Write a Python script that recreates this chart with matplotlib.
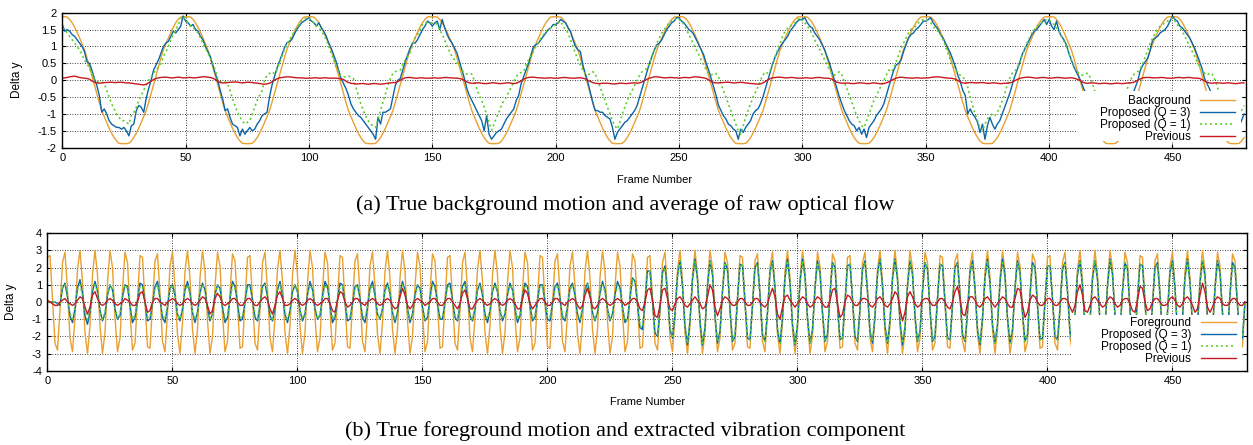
import numpy as np
import matplotlib
matplotlib.use('Agg')
import matplotlib.pyplot as plt
from matplotlib.patches import Rectangle

# ---------------- (a) background motion, one value per frame ----------------
bg_true = [
    1.88,1.88,1.87,1.8,1.7,1.57,1.42,1.25,1.08,0.9,0.66,0.4,0.13,-0.13,-0.4,-0.66,-0.9,-1.08,-1.25,-1.42,-1.57,-1.7,-1.8,-1.87,-1.88,-1.88,-1.88,-1.87,-1.8,-1.7,-1.57,-1.42,-1.25,-1.08,-0.9,-0.66,-0.4,-0.13,0.13,0.4,0.66,0.9,1.08,1.25,1.42,1.57,1.7,1.8,1.87,1.88,
    1.88,1.88,1.87,1.8,1.7,1.57,1.42,1.25,1.08,0.9,0.66,0.4,0.13,-0.13,-0.4,-0.66,-0.9,-1.08,-1.25,-1.42,-1.57,-1.7,-1.8,-1.87,-1.88,-1.88,-1.88,-1.87,-1.8,-1.7,-1.57,-1.42,-1.25,-1.08,-0.9,-0.66,-0.4,-0.13,0.13,0.4,0.66,0.9,1.08,1.25,1.42,1.57,1.7,1.8,1.87,1.88,
    1.88,1.88,1.87,1.8,1.7,1.57,1.42,1.25,1.08,0.9,0.66,0.4,0.13,-0.13,-0.4,-0.66,-0.9,-1.08,-1.25,-1.42,-1.57,-1.7,-1.8,-1.87,-1.88,-1.88,-1.88,-1.87,-1.8,-1.7,-1.57,-1.42,-1.25,-1.08,-0.9,-0.66,-0.4,-0.13,0.13,0.4,0.66,0.9,1.08,1.25,1.42,1.57,1.7,1.8,1.87,1.88,
    1.88,1.88,1.87,1.8,1.7,1.57,1.42,1.25,1.08,0.9,0.66,0.4,0.13,-0.13,-0.4,-0.66,-0.9,-1.08,-1.25,-1.42,-1.57,-1.7,-1.8,-1.87,-1.88,-1.88,-1.88,-1.87,-1.8,-1.7,-1.57,-1.42,-1.25,-1.08,-0.9,-0.66,-0.4,-0.13,0.13,0.4,0.66,0.9,1.08,1.25,1.42,1.57,1.7,1.8,1.87,1.88,
    1.88,1.88,1.87,1.8,1.7,1.57,1.42,1.25,1.08,0.9,0.66,0.4,0.13,-0.13,-0.4,-0.66,-0.9,-1.08,-1.25,-1.42,-1.57,-1.7,-1.8,-1.87,-1.88,-1.88,-1.88,-1.87,-1.8,-1.7,-1.57,-1.42,-1.25,-1.08,-0.9,-0.66,-0.4,-0.13,0.13,0.4,0.66,0.9,1.08,1.25,1.42,1.57,1.7,1.8,1.87,1.88,
    1.88,1.88,1.87,1.8,1.7,1.57,1.42,1.25,1.08,0.9,0.66,0.4,0.13,-0.13,-0.4,-0.66,-0.9,-1.08,-1.25,-1.42,-1.57,-1.7,-1.8,-1.87,-1.88,-1.88,-1.88,-1.87,-1.8,-1.7,-1.57,-1.42,-1.25,-1.08,-0.9,-0.66,-0.4,-0.13,0.13,0.4,0.66,0.9,1.08,1.25,1.42,1.57,1.7,1.8,1.87,1.88,
    1.88,1.88,1.87,1.8,1.7,1.57,1.42,1.25,1.08,0.9,0.66,0.4,0.13,-0.13,-0.4,-0.66,-0.9,-1.08,-1.25,-1.42,-1.57,-1.7,-1.8,-1.87,-1.88,-1.88,-1.88,-1.87,-1.8,-1.7,-1.57,-1.42,-1.25,-1.08,-0.9,-0.66,-0.4,-0.13,0.13,0.4,0.66,0.9,1.08,1.25,1.42,1.57,1.7,1.8,1.87,1.88,
    1.88,1.88,1.87,1.8,1.7,1.57,1.42,1.25,1.08,0.9,0.66,0.4,0.13,-0.13,-0.4,-0.66,-0.9,-1.08,-1.25,-1.42,-1.57,-1.7,-1.8,-1.87,-1.88,-1.88,-1.88,-1.87,-1.8,-1.7,-1.57,-1.42,-1.25,-1.08,-0.9,-0.66,-0.4,-0.13,0.13,0.4,0.66,0.9,1.08,1.25,1.42,1.57,1.7,1.8,1.87,1.88,
    1.88,1.88,1.87,1.8,1.7,1.57,1.42,1.25,1.08,0.9,0.66,0.4,0.13,-0.13,-0.4,-0.66,-0.9,-1.08,-1.25,-1.42,-1.57,-1.7,-1.8,-1.87,-1.88,-1.88,-1.88,-1.87,-1.8,-1.7,-1.57,-1.42,-1.25,-1.08,-0.9,-0.66,-0.4,-0.13,0.13,0.4,0.66,0.9,1.08,1.25,1.42,1.57,1.7,1.8,1.87,1.88,
    1.88,1.88,1.87,1.8,1.7,1.57,1.42,1.25,1.08,0.9,0.66,0.4,0.13,-0.13,-0.4,-0.66,-0.9,-1.08,-1.25,-1.42,-1.57,-1.7,-1.8,-1.87,-1.88,-1.88,-1.88,-1.87,-1.8,-1.7,
]

bg_q3 = [
    1.65,1.45,1.5,1.45,1.35,1.3,1.2,1.1,1.0,0.85,0.55,0.5,0.3,0.05,-0.15,-0.45,-0.95,-0.85,-1.0,-1.2,-1.3,-1.35,-1.4,-1.4,-1.45,-1.4,-1.5,-1.65,-1.35,-1.3,-0.9,-0.75,-0.8,-0.95,-0.55,-0.25,0.0,0.3,0.45,0.6,0.8,1.0,1.1,1.15,1.3,1.45,1.4,1.5,1.6,1.9,
    1.75,1.7,1.6,1.65,1.5,1.45,1.3,1.2,1.0,0.85,0.7,0.45,0.2,0.0,-0.3,-0.55,-0.9,-0.85,-1.1,-1.3,-1.35,-1.4,-1.65,-1.45,-1.6,-1.5,-1.4,-1.5,-1.45,-1.3,-1.2,-1.05,-1.0,-0.95,-0.5,-0.15,0.1,0.35,0.55,0.75,0.95,1.1,1.15,1.2,1.35,1.5,1.6,1.7,1.75,1.8,
    1.85,1.75,1.7,1.6,1.7,1.55,1.45,1.3,1.1,0.95,0.75,0.55,0.3,0.05,-0.1,-0.25,-0.45,-0.7,-0.85,-0.95,-1.05,-1.1,-1.2,-1.3,-1.4,-1.5,-1.6,-1.75,-1.1,-1.3,-0.95,-0.95,-0.9,-0.85,-0.5,-0.15,0.0,0.05,0.3,0.55,0.75,0.95,1.1,1.1,1.2,1.35,1.5,1.6,1.75,1.7,
    1.6,1.7,1.75,1.5,1.8,1.55,1.35,1.2,1.1,0.95,0.8,0.55,0.3,0.05,-0.25,-0.45,-0.6,-0.75,-0.9,-1.05,-1.2,-1.5,-1.05,-1.6,-1.75,-1.65,-1.55,-1.5,-1.45,-1.3,-1.15,-1.05,-0.95,-0.85,-0.6,-0.45,-0.1,0.1,0.3,0.5,0.75,1.0,1.05,1.1,1.2,1.3,1.4,1.5,1.55,1.65,
    1.65,1.7,1.8,1.75,1.7,1.55,1.45,1.2,1.0,0.9,0.85,0.45,0.2,-0.05,-0.35,-0.65,-0.9,-0.9,-0.95,-0.95,-1.05,-1.1,-1.15,-1.4,-1.75,-1.55,-1.45,-1.35,-1.25,-1.2,-1.1,-1.0,-0.9,-0.75,-0.5,-0.25,0.0,0.25,0.5,0.7,0.9,1.05,1.1,1.2,1.35,1.5,1.6,1.7,1.75,1.85,
    1.85,1.75,1.7,1.6,1.5,1.45,1.35,1.2,1.05,0.9,0.75,0.5,0.3,0.05,-0.2,-0.45,-0.75,-0.9,-1.05,-1.15,-1.3,-1.35,-1.45,-1.5,-1.75,-1.45,-1.55,-1.4,-1.3,-1.2,-1.0,-0.9,-0.85,-0.7,-0.5,-0.25,0.0,0.25,0.5,0.7,0.85,1.0,1.1,1.2,1.3,1.45,1.55,1.65,1.75,1.8,
    1.8,1.85,1.7,1.6,1.55,1.4,1.3,1.2,1.05,0.9,0.7,0.5,0.25,0.0,-0.25,-0.5,-0.7,-0.9,-1.05,-1.2,-1.3,-1.35,-1.5,-1.4,-1.6,-1.45,-1.7,-1.4,-1.3,-1.2,-1.05,-0.95,-0.85,-0.7,-0.45,-0.2,0.05,0.3,0.45,0.5,0.6,0.85,1.05,1.25,1.35,1.4,1.5,1.56,1.65,1.75,
    1.75,1.8,1.85,1.7,1.6,1.5,1.35,1.25,1.1,0.95,0.8,0.6,0.4,0.15,-0.05,-0.3,-0.45,-1.0,-0.85,-1.0,-1.1,-1.25,-1.55,-1.3,-1.75,-1.35,-1.1,-1.3,-1.45,-1.3,-1.2,-1.0,-0.8,-0.6,-0.4,-0.15,0.1,0.3,0.5,0.75,0.9,1.05,1.2,1.35,1.45,1.5,1.6,1.7,1.8,1.65,
    1.8,1.6,1.5,1.75,1.45,1.3,1.2,1.05,0.8,0.6,0.4,0.25,0.1,-0.05,-0.25,-0.4,-0.6,-0.8,-1.0,-1.2,-1.3,-1.4,-1.45,-1.5,-1.6,-1.5,-1.45,-1.4,-1.3,-1.2,-1.05,-0.9,-0.75,-0.55,-0.4,-0.2,0.0,0.3,0.45,0.55,0.65,0.9,1.2,1.25,1.3,1.4,1.45,1.5,1.6,1.75,
    1.9,1.8,1.75,1.6,1.55,1.45,1.35,1.25,1.1,0.95,0.75,0.55,0.35,0.05,-0.1,-0.25,-0.45,-0.7,-0.9,-1.05,-1.2,-1.3,-1.35,-1.4,-1.45,-1.5,-1.4,-1.35,-1.2,-1.0,
]

bg_q1 = [
    1.55,1.5,1.4,1.3,1.2,1.1,1.0,0.9,0.75,0.6,0.5,0.35,0.2,0.0,-0.05,-0.05,-0.05,-0.1,-0.3,-0.5,-0.7,-0.85,-1.0,-1.1,-1.2,-1.2,-1.25,-1.3,-1.05,-0.95,-0.8,-0.6,-0.45,-0.3,-0.15,0.0,0.1,0.2,0.3,0.4,0.5,0.7,0.85,1.0,1.2,1.35,1.5,1.65,1.8,1.9,
    1.8,1.7,1.6,1.55,1.5,1.4,1.25,1.1,0.95,0.8,0.68,0.5,0.3,0.05,-0.05,-0.05,-0.05,-0.1,-0.3,-0.55,-0.75,-0.95,-1.1,-1.2,-1.3,-1.25,-1.2,-1.0,-0.8,-0.6,-0.45,-0.3,0.0,0.15,0.2,0.25,0.2,0.3,0.5,0.7,0.9,1.05,1.2,1.3,1.45,1.55,1.65,1.75,1.8,1.85,
    1.85,1.75,1.7,1.6,1.55,1.45,1.35,1.2,1.0,0.8,0.6,0.4,0.25,0.12,0.1,0.1,0.12,0.1,0.05,-0.2,-0.45,-0.7,-0.9,-1.05,-1.2,-1.3,-1.35,-1.4,-1.15,-0.9,-0.65,-0.4,-0.15,0.05,0.2,0.25,0.28,0.3,0.45,0.6,0.72,0.82,1.05,1.25,1.35,1.5,1.65,1.7,1.7,1.7,
    1.7,1.7,1.65,1.5,1.35,1.2,1.0,0.85,0.7,0.6,0.5,0.4,0.3,0.2,0.18,0.2,0.18,0.0,-0.25,-0.45,-0.6,-0.8,-1.0,-1.25,-1.48,-1.3,-1.1,-0.95,-0.75,-0.6,-0.5,-0.35,-0.2,-0.05,0.1,0.19,0.23,0.25,0.45,0.6,0.72,0.85,1.0,1.1,1.25,1.35,1.45,1.5,1.55,1.6,
    1.65,1.7,1.75,1.6,1.5,1.4,1.2,1.0,0.8,0.6,0.45,0.3,0.2,0.15,0.2,0.25,0.2,0.0,-0.2,-0.4,-0.6,-0.8,-1.0,-1.2,-1.35,-1.45,-1.25,-1.0,-0.8,-0.6,-0.45,-0.3,-0.15,0.0,0.15,0.25,0.3,0.35,0.5,0.7,0.9,1.1,1.25,1.4,1.5,1.6,1.7,1.75,1.8,1.85,
    1.8,1.75,1.65,1.5,1.35,1.2,1.05,0.9,0.75,0.6,0.45,0.3,0.2,0.15,0.2,0.2,0.1,-0.1,-0.3,-0.5,-0.7,-0.9,-1.1,-1.3,-1.5,-1.6,-1.35,-1.1,-0.9,-0.7,-0.5,-0.35,-0.2,0.0,0.15,0.25,0.2,0.3,0.5,0.7,0.9,1.1,1.3,1.45,1.55,1.6,1.65,1.7,1.8,1.85,
    1.75,1.7,1.6,1.5,1.35,1.2,1.05,0.9,0.75,0.6,0.45,0.3,0.2,0.15,0.2,0.25,0.15,-0.05,-0.25,-0.45,-0.65,-0.85,-1.05,-1.2,-1.35,-1.4,-1.2,-1.0,-0.8,-0.6,-0.45,-0.3,-0.15,0.0,0.15,0.3,0.25,0.35,0.55,0.75,0.95,1.1,1.25,1.4,1.5,1.55,1.6,1.7,1.75,1.8,
    1.8,1.75,1.7,1.6,1.5,1.45,1.35,1.2,1.0,0.8,0.6,0.45,0.3,0.2,0.15,0.1,0.0,-0.2,-0.5,-0.75,-1.0,-1.2,-1.4,-1.5,-1.3,-1.15,-1.05,-1.0,-1.05,-0.95,-0.8,-0.6,-0.4,-0.15,0.05,0.2,0.25,0.35,0.55,0.72,0.9,1.1,1.25,1.4,1.5,1.6,1.65,1.7,1.75,1.8,
    1.8,1.7,1.65,1.55,1.45,1.3,1.15,1.0,0.8,0.6,0.45,0.3,0.2,0.15,0.15,0.2,0.2,0.0,-0.2,-0.45,-0.7,-0.9,-1.1,-1.3,-1.45,-1.5,-1.3,-1.1,-0.9,-0.7,-0.5,-0.35,-0.2,0.0,0.15,0.2,0.25,0.35,0.5,0.7,0.9,1.1,1.25,1.4,1.5,1.6,1.65,1.7,1.75,1.8,
    1.85,1.75,1.65,1.55,1.45,1.3,1.15,1.0,0.85,0.7,0.55,0.4,0.3,0.2,0.15,0.2,0.2,0.05,-0.15,-0.4,-0.65,-0.85,-1.05,-1.25,-1.4,-1.45,-1.3,-1.1,-0.9,-0.75,
]

bg_prev = [
    0.06,0.07,0.08,0.1,0.11,0.12,0.1,0.08,0.07,0.06,0.05,0.03,-0.02,-0.06,-0.08,-0.09,-0.08,-0.07,-0.07,-0.06,-0.06,-0.07,-0.07,-0.06,-0.06,-0.07,-0.08,-0.08,-0.09,-0.1,-0.11,-0.12,-0.13,-0.14,-0.12,-0.08,-0.03,0.02,0.05,0.07,0.08,0.09,0.09,0.08,0.07,0.07,0.08,0.09,0.08,0.07,
    0.07,0.08,0.08,0.07,0.07,0.08,0.09,0.1,0.1,0.09,0.08,0.06,0.02,-0.03,-0.07,-0.08,-0.08,-0.07,-0.06,-0.06,-0.05,-0.06,-0.07,-0.08,-0.07,-0.06,-0.06,-0.07,-0.08,-0.09,-0.1,-0.11,-0.12,-0.11,-0.09,-0.05,0.0,0.04,0.07,0.08,0.09,0.1,0.1,0.09,0.08,0.07,0.07,0.07,0.06,0.06,
    0.06,0.06,0.07,0.07,0.06,0.06,0.07,0.07,0.06,0.06,0.06,0.06,0.05,0.04,0.02,-0.03,-0.07,-0.09,-0.1,-0.11,-0.11,-0.1,-0.1,-0.11,-0.12,-0.11,-0.1,-0.1,-0.11,-0.12,-0.11,-0.1,-0.09,-0.08,-0.07,-0.07,-0.04,0.0,0.04,0.07,0.08,0.08,0.07,0.06,0.06,0.07,0.07,0.06,0.06,0.06,
    0.07,0.07,0.06,0.06,0.07,0.08,0.08,0.07,0.07,0.06,0.06,0.05,0.03,-0.01,-0.05,-0.08,-0.09,-0.09,-0.08,-0.08,-0.09,-0.1,-0.1,-0.09,-0.08,-0.08,-0.09,-0.1,-0.1,-0.09,-0.08,-0.08,-0.09,-0.1,-0.09,-0.06,-0.02,0.03,0.06,0.08,0.09,0.09,0.08,0.07,0.07,0.06,0.06,0.07,0.07,0.06,
    0.06,0.06,0.07,0.08,0.08,0.07,0.06,0.06,0.06,0.07,0.07,0.06,0.04,0.0,-0.04,-0.07,-0.09,-0.1,-0.1,-0.09,-0.09,-0.09,-0.1,-0.11,-0.11,-0.1,-0.09,-0.09,-0.1,-0.1,-0.09,-0.08,-0.08,-0.09,-0.08,-0.05,-0.01,0.03,0.06,0.08,0.1,0.1,0.09,0.08,0.07,0.07,0.08,0.08,0.07,0.07,
    0.06,0.07,0.08,0.08,0.07,0.08,0.1,0.1,0.09,0.08,0.07,0.05,0.01,-0.04,-0.07,-0.08,-0.08,-0.07,-0.07,-0.06,-0.06,-0.07,-0.08,-0.08,-0.07,-0.06,-0.07,-0.08,-0.09,-0.1,-0.1,-0.11,-0.12,-0.11,-0.08,-0.04,0.01,0.05,0.07,0.08,0.09,0.09,0.08,0.07,0.07,0.08,0.08,0.07,0.06,0.06,
    0.06,0.07,0.07,0.06,0.06,0.07,0.08,0.08,0.07,0.06,0.06,0.05,0.03,-0.02,-0.06,-0.08,-0.09,-0.09,-0.08,-0.09,-0.1,-0.1,-0.09,-0.08,-0.08,-0.09,-0.1,-0.1,-0.09,-0.08,-0.09,-0.1,-0.11,-0.1,-0.08,-0.05,-0.01,0.03,0.06,0.08,0.09,0.08,0.07,0.07,0.06,0.06,0.07,0.07,0.06,0.06,
    0.07,0.07,0.08,0.09,0.1,0.1,0.09,0.08,0.07,0.06,0.06,0.05,0.03,-0.01,-0.05,-0.08,-0.09,-0.08,-0.07,-0.07,-0.08,-0.08,-0.07,-0.07,-0.08,-0.09,-0.09,-0.08,-0.08,-0.09,-0.1,-0.1,-0.09,-0.09,-0.08,-0.06,-0.02,0.02,0.05,0.07,0.08,0.09,0.09,0.08,0.07,0.06,0.07,0.08,0.08,0.07,
    0.06,0.06,0.07,0.08,0.08,0.07,0.06,0.06,0.07,0.07,0.06,0.04,0.01,-0.03,-0.07,-0.09,-0.09,-0.08,-0.08,-0.09,-0.1,-0.1,-0.09,-0.09,-0.1,-0.11,-0.1,-0.09,-0.09,-0.1,-0.1,-0.09,-0.08,-0.08,-0.07,-0.04,0.0,0.04,0.07,0.08,0.08,0.08,0.07,0.07,0.07,0.08,0.08,0.07,0.06,0.06,
    0.06,0.07,0.08,0.08,0.07,0.07,0.08,0.08,0.07,0.06,0.06,0.05,0.02,-0.02,-0.06,-0.08,-0.09,-0.08,-0.08,-0.08,-0.09,-0.09,-0.08,-0.08,-0.09,-0.1,-0.1,-0.09,-0.08,-0.08,
]

# ---------------- (b) foreground motion, one value per frame ----------------
fg_true = [
    2.6,2.7,0.2,-2.4,-2.8,-0.5,2.3,2.9,0.7,-2.1,-2.9,-0.9,1.9,3.0,1.2,-1.8,-3.0,-1.4,1.6,3.0,1.6,-1.4,-3.0,-1.8,1.1,3.0,2.0,-0.9,-2.9,-2.1,0.7,2.9,2.3,-0.5,-2.8,-2.4,0.2,2.7,2.6,0.0,-2.6,-2.7,-0.2,2.4,2.8,0.5,-2.3,-2.9,-0.7,2.1,2.9,0.9,-1.9,-3.0,-1.2,1.8,3.0,1.4,-1.6,-3.0,-1.6,1.4,3.0,1.8,-1.1,-3.0,-2.0,0.9,2.9,2.1,-0.7,-2.9,-2.3,0.5,2.8,2.4,-0.2,-2.7,-2.6,0.0,
    2.6,2.7,0.2,-2.4,-2.8,-0.5,2.3,2.9,0.7,-2.1,-2.9,-0.9,1.9,3.0,1.2,-1.8,-3.0,-1.4,1.6,3.0,1.6,-1.4,-3.0,-1.8,1.1,3.0,2.0,-0.9,-2.9,-2.1,0.7,2.9,2.3,-0.5,-2.8,-2.4,0.2,2.7,2.6,0.0,-2.6,-2.7,-0.2,2.4,2.8,0.5,-2.3,-2.9,-0.7,2.1,2.9,0.9,-1.9,-3.0,-1.2,1.8,3.0,1.4,-1.6,-3.0,-1.6,1.4,3.0,1.8,-1.1,-3.0,-2.0,0.9,2.9,2.1,-0.7,-2.9,-2.3,0.5,2.8,2.4,-0.2,-2.7,-2.6,0.0,
    2.6,2.7,0.2,-2.4,-2.8,-0.5,2.3,2.9,0.7,-2.1,-2.9,-0.9,1.9,3.0,1.2,-1.8,-3.0,-1.4,1.6,3.0,1.6,-1.4,-3.0,-1.8,1.1,3.0,2.0,-0.9,-2.9,-2.1,0.7,2.9,2.3,-0.5,-2.8,-2.4,0.2,2.7,2.6,0.0,-2.6,-2.7,-0.2,2.4,2.8,0.5,-2.3,-2.9,-0.7,2.1,2.9,0.9,-1.9,-3.0,-1.2,1.8,3.0,1.4,-1.6,-3.0,-1.6,1.4,3.0,1.8,-1.1,-3.0,-2.0,0.9,2.9,2.1,-0.7,-2.9,-2.3,0.5,2.8,2.4,-0.2,-2.7,-2.6,0.0,
    2.6,2.7,0.2,-2.4,-2.8,-0.5,2.3,2.9,0.7,-2.1,-2.9,-0.9,1.9,3.0,1.2,-1.8,-3.0,-1.4,1.6,3.0,1.6,-1.4,-3.0,-1.8,1.1,3.0,2.0,-0.9,-2.9,-2.1,0.7,2.9,2.3,-0.5,-2.8,-2.4,0.2,2.7,2.6,0.0,-2.6,-2.7,-0.2,2.4,2.8,0.5,-2.3,-2.9,-0.7,2.1,2.9,0.9,-1.9,-3.0,-1.2,1.8,3.0,1.4,-1.6,-3.0,-1.6,1.4,3.0,1.8,-1.1,-3.0,-2.0,0.9,2.9,2.1,-0.7,-2.9,-2.3,0.5,2.8,2.4,-0.2,-2.7,-2.6,0.0,
    2.6,2.7,0.2,-2.4,-2.8,-0.5,2.3,2.9,0.7,-2.1,-2.9,-0.9,1.9,3.0,1.2,-1.8,-3.0,-1.4,1.6,3.0,1.6,-1.4,-3.0,-1.8,1.1,3.0,2.0,-0.9,-2.9,-2.1,0.7,2.9,2.3,-0.5,-2.8,-2.4,0.2,2.7,2.6,0.0,-2.6,-2.7,-0.2,2.4,2.8,0.5,-2.3,-2.9,-0.7,2.1,2.9,0.9,-1.9,-3.0,-1.2,1.8,3.0,1.4,-1.6,-3.0,-1.6,1.4,3.0,1.8,-1.1,-3.0,-2.0,0.9,2.9,2.1,-0.7,-2.9,-2.3,0.5,2.8,2.4,-0.2,-2.7,-2.6,0.0,
    2.6,2.7,0.2,-2.4,-2.8,-0.5,2.3,2.9,0.7,-2.1,-2.9,-0.9,1.9,3.0,1.2,-1.8,-3.0,-1.4,1.6,3.0,1.6,-1.4,-3.0,-1.8,1.1,3.0,2.0,-0.9,-2.9,-2.1,0.7,2.9,2.3,-0.5,-2.8,-2.4,0.2,2.7,2.6,0.0,-2.6,-2.7,-0.2,2.4,2.8,0.5,-2.3,-2.9,-0.7,2.1,2.9,0.9,-1.9,-3.0,-1.2,1.8,3.0,1.4,-1.6,-3.0,-1.6,1.4,3.0,1.8,-1.1,-3.0,-2.0,0.9,2.9,2.1,-0.7,-2.9,-2.3,0.5,2.8,2.4,-0.2,-2.7,-2.6,0.0,
]

fg_q3 = [
    0.0,0.0,0.0,0.0,-0.1,-0.2,0.8,1.1,0.3,-0.8,-1.2,-0.4,0.8,1.3,0.5,-0.8,-1.3,-0.6,0.6,1.2,0.6,-0.5,-1.1,-0.7,0.4,1.0,0.7,-0.4,-1.0,-0.8,0.3,1.0,0.9,-0.2,-1.2,-0.9,0.1,1.1,1.0,0.0,-1.1,-1.0,-0.1,0.9,1.2,0.2,-0.9,-1.2,-0.3,0.8,1.0,0.4,-0.7,-1.1,-0.4,0.7,1.2,0.5,-0.6,-1.2,-0.6,0.5,1.1,0.7,-0.4,-1.1,-0.7,0.4,1.0,0.8,-0.3,-1.2,-0.9,0.2,1.2,0.9,-0.1,-1.1,-1.0,0.0,
    1.0,1.0,0.1,-0.9,-1.1,-0.2,0.9,1.1,0.3,-0.8,-1.1,-0.4,0.7,1.2,0.4,-0.7,-1.2,-0.5,0.6,1.0,0.6,-0.5,-1.1,-0.7,0.4,1.2,0.7,-0.4,-1.0,-0.8,0.3,1.2,0.9,-0.2,-1.2,-0.9,0.1,1.1,1.0,0.0,-1.1,-1.0,-0.1,0.9,1.0,0.2,-0.9,-1.2,-0.3,0.8,1.2,0.4,-0.7,-1.0,-0.4,0.7,1.1,0.5,-0.6,-1.2,-0.6,0.5,1.2,0.7,-0.4,-1.2,-0.7,0.4,1.0,0.8,-0.3,-1.1,-0.9,0.2,1.2,0.9,-0.1,-1.0,-1.0,0.0,
    1.0,1.1,0.1,-0.9,-1.1,-0.2,0.9,1.2,0.3,-0.8,-1.1,-0.4,0.7,1.1,0.4,-0.7,-1.2,-0.5,0.6,1.1,0.6,-0.5,-1.1,-0.7,0.4,1.1,0.7,-0.4,-1.2,-0.8,0.3,1.1,0.9,-0.2,-1.1,-0.9,0.1,1.0,1.0,0.0,-1.0,-1.1,-0.1,0.9,1.1,0.2,-0.9,-1.1,-0.3,0.8,1.1,0.4,-0.7,-1.2,-0.4,0.7,1.1,0.5,-0.6,-1.1,-0.6,0.5,1.2,0.7,-0.4,-1.1,-0.7,0.4,1.2,0.8,-0.3,-1.2,-1.0,0.2,1.4,1.2,-0.1,-1.5,-1.6,0.0,
    1.8,1.8,0.1,-1.8,-2.0,-0.4,1.7,2.1,0.5,-1.6,-2.1,-0.7,1.5,2.4,0.9,-1.4,-2.5,-1.1,1.3,2.5,1.3,-1.1,-2.5,-1.5,0.9,2.4,1.6,-0.8,-2.4,-1.7,0.6,2.3,1.9,-0.4,-2.3,-2.0,0.2,2.2,2.1,0.0,-2.1,-2.2,-0.2,2.0,2.3,0.4,-1.9,-2.3,-0.6,1.7,2.4,0.8,-1.6,-2.4,-0.9,1.4,2.5,1.1,-1.3,-2.5,-1.3,1.1,2.5,1.5,-0.9,-2.4,-1.6,0.8,2.4,1.7,-0.6,-2.3,-1.9,0.4,2.3,2.0,-0.2,-2.2,-2.1,0.0,
    2.1,2.2,0.2,-2.0,-2.3,-0.4,1.9,2.4,0.6,-1.7,-2.4,-0.8,1.6,2.5,0.9,-1.4,-2.4,-1.1,1.3,2.5,1.3,-1.1,-2.5,-1.5,0.9,2.4,1.6,-0.8,-2.3,-1.7,0.6,2.3,1.9,-0.4,-2.3,-2.0,0.2,2.2,2.1,0.0,-2.1,-2.2,-0.2,2.0,2.3,0.4,-1.9,-2.3,-0.6,1.7,2.4,0.8,-1.6,-2.5,-0.9,1.4,2.5,1.1,-1.3,-2.4,-1.3,1.1,2.5,1.5,-0.9,-2.4,-1.6,0.8,2.4,1.7,-0.6,-2.3,-1.9,0.4,2.3,2.0,-0.2,-2.2,-2.1,0.0,
    2.1,2.1,0.2,-2.0,-2.2,-0.4,1.9,2.3,0.6,-1.7,-2.4,-0.8,1.6,2.4,0.9,-1.4,-2.5,-1.1,1.3,2.4,1.3,-1.1,-2.4,-1.5,0.9,2.5,1.6,-0.8,-2.4,-1.7,0.6,2.3,1.9,-0.4,-2.3,-2.0,0.2,2.2,2.1,0.0,-2.1,-2.2,-0.2,2.0,2.3,0.4,-1.9,-2.4,-0.6,1.7,2.4,0.8,-1.6,-2.4,-0.9,1.4,2.5,1.1,-1.3,-2.5,-1.3,1.1,2.4,1.5,-0.9,-2.5,-1.6,0.8,2.4,1.7,-0.6,-2.3,-1.9,0.4,2.3,2.0,-0.2,-2.2,-2.1,0.0,
]

fg_q1 = [
    0.0,0.0,0.0,0.0,-0.1,-0.2,0.8,1.0,0.2,-0.7,-1.0,-0.3,0.7,1.0,0.4,-0.6,-1.0,-0.5,0.6,1.0,0.6,-0.5,-1.0,-0.6,0.4,1.0,0.7,-0.3,-1.0,-0.7,0.2,1.0,0.8,-0.2,-1.0,-0.8,0.1,0.9,0.9,0.0,-0.9,-0.9,-0.1,0.8,1.0,0.2,-0.8,-1.0,-0.2,0.7,1.0,0.3,-0.7,-1.0,-0.4,0.6,1.0,0.5,-0.6,-1.0,-0.6,0.5,1.0,0.6,-0.4,-1.0,-0.7,0.3,1.0,0.7,-0.2,-1.0,-0.8,0.2,1.0,0.8,-0.1,-0.9,-0.9,0.0,
    0.9,0.9,0.1,-0.8,-1.0,-0.2,0.8,1.0,0.2,-0.7,-1.0,-0.3,0.7,1.0,0.4,-0.6,-1.0,-0.5,0.6,1.0,0.6,-0.5,-1.0,-0.6,0.4,1.0,0.7,-0.3,-1.0,-0.7,0.2,1.0,0.8,-0.2,-1.0,-0.8,0.1,0.9,0.9,0.0,-0.9,-0.9,-0.1,0.8,1.0,0.2,-0.8,-1.0,-0.2,0.7,1.0,0.3,-0.7,-1.0,-0.4,0.6,1.0,0.5,-0.6,-1.0,-0.6,0.5,1.0,0.6,-0.4,-1.0,-0.7,0.3,1.0,0.7,-0.2,-1.0,-0.8,0.2,1.0,0.8,-0.1,-0.9,-0.9,0.0,
    0.9,0.9,0.1,-0.8,-1.0,-0.2,0.8,1.0,0.2,-0.7,-1.0,-0.3,0.7,1.0,0.4,-0.6,-1.0,-0.5,0.6,1.0,0.6,-0.5,-1.0,-0.6,0.4,1.0,0.7,-0.3,-1.0,-0.7,0.2,1.0,0.8,-0.2,-1.0,-0.8,0.1,0.9,0.9,0.0,-0.9,-0.9,-0.1,0.8,1.0,0.2,-0.8,-1.0,-0.2,0.7,1.0,0.3,-0.7,-1.0,-0.4,0.6,1.0,0.5,-0.6,-1.0,-0.6,0.5,1.0,0.6,-0.4,-1.0,-0.7,0.3,1.0,0.7,-0.3,-1.1,-1.0,0.2,1.3,1.2,-0.1,-1.4,-1.5,0.0,
    1.7,1.8,0.1,-1.7,-1.9,-0.4,1.6,2.0,0.5,-1.5,-2.1,-0.7,1.4,2.4,1.0,-1.4,-2.4,-1.1,1.3,2.4,1.3,-1.1,-2.4,-1.4,0.9,2.4,1.6,-0.7,-2.3,-1.7,0.6,2.3,1.8,-0.4,-2.2,-1.9,0.2,2.2,2.1,0.0,-2.1,-2.2,-0.2,1.9,2.2,0.4,-1.8,-2.3,-0.6,1.7,2.3,0.7,-1.5,-2.4,-1.0,1.4,2.4,1.1,-1.3,-2.4,-1.3,1.1,2.4,1.4,-0.9,-2.4,-1.6,0.7,2.3,1.7,-0.6,-2.3,-1.8,0.4,2.2,1.9,-0.2,-2.2,-2.1,0.0,
    2.1,2.2,0.2,-1.9,-2.2,-0.4,1.8,2.3,0.6,-1.7,-2.3,-0.7,1.5,2.4,1.0,-1.4,-2.4,-1.1,1.3,2.4,1.3,-1.1,-2.4,-1.4,0.9,2.4,1.6,-0.7,-2.3,-1.7,0.6,2.3,1.8,-0.4,-2.2,-1.9,0.2,2.2,2.1,0.0,-2.1,-2.2,-0.2,1.9,2.2,0.4,-1.8,-2.3,-0.6,1.7,2.3,0.7,-1.5,-2.4,-1.0,1.4,2.4,1.1,-1.3,-2.4,-1.3,1.1,2.4,1.4,-0.9,-2.4,-1.6,0.7,2.3,1.7,-0.6,-2.3,-1.8,0.4,2.2,1.9,-0.2,-2.2,-2.1,0.0,
    2.1,2.2,0.2,-1.9,-2.2,-0.4,1.8,2.3,0.6,-1.7,-2.3,-0.7,1.5,2.4,1.0,-1.4,-2.4,-1.1,1.3,2.4,1.3,-1.1,-2.4,-1.4,0.9,2.4,1.6,-0.7,-2.3,-1.7,0.6,2.3,1.8,-0.4,-2.2,-1.9,0.2,2.2,2.1,0.0,-2.1,-2.2,-0.2,1.9,2.2,0.4,-1.8,-2.3,-0.6,1.7,2.3,0.7,-1.5,-2.4,-1.0,1.4,2.4,1.1,-1.3,-2.4,-1.3,1.1,2.4,1.4,-0.9,-2.4,-1.6,0.7,2.3,1.7,-0.6,-2.3,-1.8,0.4,2.2,1.9,-0.2,-2.2,-2.1,0.0,
]

fg_prev = [
    0.1,0.0,-0.1,-0.2,-0.2,0.0,0.1,0.2,0.0,-0.1,-0.2,-0.1,0.1,0.3,0.2,-0.3,-0.7,-0.3,0.4,0.6,0.2,-0.1,-0.2,-0.1,0.1,0.2,0.1,-0.1,-0.2,-0.1,0.0,0.2,0.1,0.0,-0.2,-0.2,0.0,0.5,0.6,0.0,-0.6,-0.5,0.0,0.2,0.2,0.0,-0.1,-0.2,0.0,0.1,0.2,0.1,-0.1,-0.2,-0.1,0.1,0.2,0.1,-0.1,-0.2,-0.1,0.1,0.3,0.2,-0.2,-0.7,-0.5,0.2,0.5,0.3,-0.1,-0.2,-0.1,0.0,0.2,0.2,0.0,-0.2,-0.2,0.0,
    0.2,0.2,0.0,-0.2,-0.2,0.0,0.2,0.3,0.1,-0.4,-0.7,-0.2,0.4,0.6,0.2,-0.2,-0.2,-0.1,0.1,0.2,0.1,-0.1,-0.2,-0.1,0.1,0.2,0.1,-0.1,-0.2,-0.1,0.0,0.2,0.2,-0.1,-0.5,-0.6,0.1,0.6,0.5,0.0,-0.3,-0.2,0.0,0.2,0.2,0.0,-0.1,-0.2,0.0,0.1,0.2,0.1,-0.1,-0.2,-0.1,0.1,0.2,0.1,-0.2,-0.4,-0.3,0.3,0.8,0.4,-0.2,-0.4,-0.2,0.1,0.2,0.1,0.0,-0.2,-0.1,0.0,0.2,0.2,0.0,-0.2,-0.2,0.0,
    0.2,0.2,0.0,-0.2,-0.4,-0.1,0.5,0.7,0.2,-0.4,-0.4,-0.1,0.1,0.2,0.1,-0.1,-0.2,-0.1,0.1,0.2,0.1,-0.1,-0.2,-0.1,0.1,0.2,0.1,-0.1,-0.4,-0.4,0.2,0.7,0.5,-0.1,-0.4,-0.2,0.0,0.2,0.2,0.0,-0.2,-0.2,0.0,0.2,0.2,0.0,-0.1,-0.2,0.0,0.1,0.2,0.1,-0.2,-0.4,-0.2,0.4,0.8,0.3,-0.3,-0.4,-0.2,0.1,0.2,0.1,-0.1,-0.2,-0.1,0.1,0.2,0.1,0.0,-0.2,-0.1,0.0,0.2,0.2,0.0,-0.4,-0.5,0.0,
    0.7,0.8,0.1,-0.8,-0.9,-0.2,0.7,0.8,0.2,-0.4,-0.5,-0.1,0.2,0.3,0.1,-0.2,-0.3,-0.1,0.1,0.3,0.1,-0.1,-0.4,-0.3,0.3,1.0,0.7,-0.3,-0.8,-0.4,0.1,0.3,0.2,0.0,-0.2,-0.2,0.0,0.2,0.2,0.0,-0.2,-0.2,0.0,0.2,0.2,0.0,-0.2,-0.3,-0.1,0.4,0.8,0.3,-0.7,-1.0,-0.3,0.3,0.4,0.1,-0.1,-0.3,-0.1,0.1,0.3,0.2,-0.1,-0.3,-0.2,0.1,0.3,0.2,-0.1,-0.3,-0.3,0.1,0.7,0.8,-0.1,-0.9,-0.7,0.0,
    0.4,0.3,0.0,-0.2,-0.2,0.0,0.2,0.2,0.1,-0.2,-0.3,-0.1,0.2,0.3,0.1,-0.2,-0.3,-0.1,0.2,0.6,0.4,-0.4,-1.1,-0.6,0.3,0.6,0.3,-0.1,-0.3,-0.2,0.1,0.2,0.2,0.0,-0.2,-0.2,0.0,0.2,0.2,0.0,-0.3,-0.4,0.0,0.6,0.9,0.2,-0.7,-0.8,-0.1,0.3,0.3,0.1,-0.2,-0.3,-0.1,0.2,0.3,0.1,-0.1,-0.3,-0.1,0.1,0.3,0.2,-0.1,-0.3,-0.3,0.2,0.8,0.7,-0.2,-0.9,-0.6,0.1,0.4,0.3,0.0,-0.2,-0.2,0.0,
    0.2,0.2,0.0,-0.2,-0.2,0.0,0.2,0.2,0.1,-0.3,-0.6,-0.2,0.6,1.0,0.4,-0.5,-0.6,-0.2,0.2,0.3,0.1,-0.1,-0.3,-0.2,0.1,0.3,0.2,-0.1,-0.3,-0.2,0.1,0.2,0.2,-0.1,-0.5,-0.6,0.1,0.9,0.8,0.0,-0.5,-0.4,0.0,0.2,0.2,0.0,-0.2,-0.2,-0.1,0.2,0.3,0.1,-0.2,-0.3,-0.1,0.2,0.3,0.1,-0.2,-0.6,-0.4,0.4,1.1,0.6,-0.3,-0.6,-0.3,0.1,0.3,0.2,-0.1,-0.2,-0.2,0.0,0.2,0.2,0.0,-0.2,-0.2,0.0,
]

top_labels = ['Background', 'Proposed (Q = 3)', 'Proposed (Q = 1)', 'Previous']
bot_labels = ['Foreground', 'Proposed (Q = 3)', 'Proposed (Q = 1)', 'Previous']
top_yticks = [-2, -1.5, -1, -0.5, 0, 0.5, 1, 1.5, 2]
bot_yticks = [-4, -3, -2, -1, 0, 1, 2, 3, 4]
xticks = [0, 50, 100, 150, 200, 250, 300, 350, 400, 450]

c_orange = '#E9A030'
c_blue = '#0B66A8'
c_green = '#5CCF2A'
c_red = '#C81820'

plt.rcParams['font.family'] = ['Liberation Sans', 'DejaVu Sans']

fig = plt.figure(figsize=(12.53, 4.45), dpi=100)
ax1 = fig.add_axes([0.0497, 0.6681, 0.9451, 0.3034])
ax2 = fig.add_axes([0.0379, 0.1670, 0.9577, 0.3088])


def draw(ax, series, labels, yticks, ylabel_x, leg_y, box):
    styles = [dict(color=c_orange, lw=1.0),
              dict(color=c_blue, lw=1.0),
              dict(color=c_green, lw=1.2, ls=(0, (1.2, 1.8))),
              dict(color=c_red, lw=1.0)]
    for y, lab, st in zip(series, labels, styles):
        ax.plot(np.arange(len(y)), y, label=lab, **st)
    ax.set_xlim(0, 480)
    ax.set_ylim(yticks[0], yticks[-1])
    ax.set_xticks(xticks, labels=[str(t) for t in xticks])
    ax.set_yticks(yticks, labels=['%g' % t for t in yticks])
    ax.grid(True, color='black', linestyle=(0, (1, 2)), linewidth=0.6)
    ax.tick_params(direction='in', length=3, top=True, right=True,
                   labelsize=8, pad=4)
    for s in ax.spines.values():
        s.set_linewidth(1.0)
    ax.set_ylabel('Delta y', fontsize=8.5)
    ax.yaxis.set_label_coords(ylabel_x, 0.5)
    ax.set_xlabel('Frame Number', fontsize=8)
    # white key area (gnuplot-style opaque key)
    ax.add_patch(Rectangle((box[0], box[1]), box[2] - box[0], box[3] - box[1],
                           transform=ax.transAxes, facecolor='white',
                           edgecolor='none', zorder=4))
    leg = ax.legend(loc='lower right', bbox_to_anchor=(0.9945, leg_y),
                    borderaxespad=0, markerfirst=False, fontsize=8.5,
                    handlelength=3.0, handletextpad=0.8, labelspacing=0.0,
                    borderpad=0.4, frameon=False)
    leg.set_zorder(5)


draw(ax1, [bg_true, bg_q3, bg_q1, bg_prev], top_labels, top_yticks,
     -0.033, 0.0, (0.856, 0.05, 0.9954, 0.42))
ax1.xaxis.set_label_coords(0.5, -0.2)
draw(ax2, [fg_true, fg_q3, fg_q1, fg_prev], bot_labels, bot_yticks,
     -0.025, 0.008, (0.853, 0.06, 0.9954, 0.405))
ax2.xaxis.set_label_coords(0.5, -0.19)

serif = ['Liberation Serif', 'DejaVu Serif']
fig.text(0.499, 1 - 205 / 445, '(a) True background motion and average of raw optical flow',
         ha='center', va='center', family=serif, fontsize=16)
fig.text(0.499, 1 - 431 / 445, '(b) True foreground motion and extracted vibration component',
         ha='center', va='center', family=serif, fontsize=16)

fig.savefig('out.png', dpi=100)
